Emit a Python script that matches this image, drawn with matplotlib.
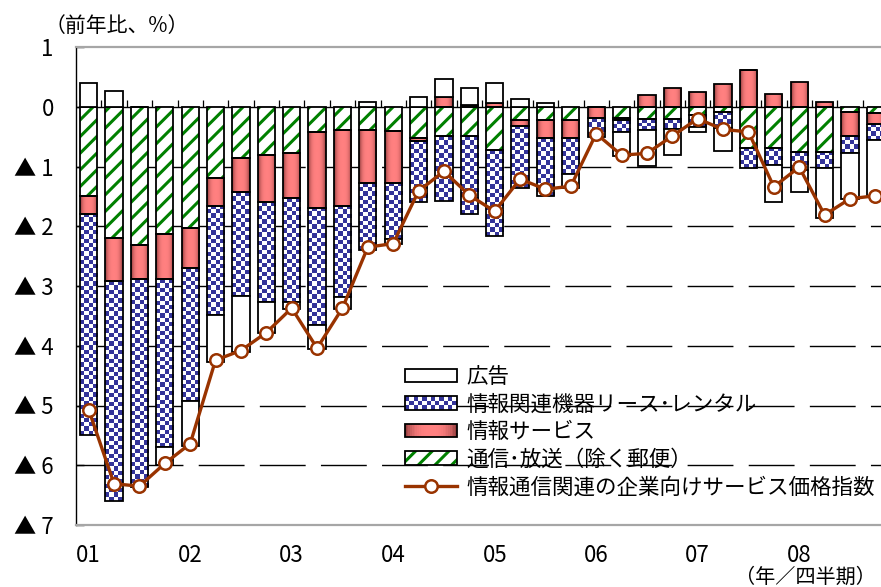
import numpy as np
import matplotlib
matplotlib.use('Agg')
import matplotlib.pyplot as plt
from matplotlib.patches import Rectangle
from matplotlib.lines import Line2D
from matplotlib.colors import ListedColormap, LinearSegmentedColormap
from matplotlib.legend_handler import HandlerBase

plt.rcParams['font.family'] = ['Noto Sans CJK JP', 'DejaVu Sans']
plt.rcParams['hatch.linewidth'] = 2.2

# ---------------- data ----------------
year_labels = ['01', '02', '03', '04', '05', '06', '07', '08']
telecom = [-1.49, -2.19, -2.31, -2.13, -2.03, -1.19, -0.86, -0.81,
           -0.77, -0.43, -0.39, -0.39, -0.40, -0.53, -0.49, -0.49,
           -0.73, -0.23, -0.23, -0.23, -0.01, -0.18, -0.21, -0.21,
           -0.14, -0.09, -0.69, -0.69, -0.76, -0.76, -0.09, -0.10]
service = [-0.30, -0.73, -0.58, -0.76, -0.67, -0.47, -0.57, -0.79,
           -0.76, -1.27, -1.27, -0.88, -0.88, -0.04, 0.17, 0.03,
           0.06, -0.09, -0.30, -0.30, -0.18, -0.04, 0.20, 0.31,
           0.24, 0.38, 0.61, 0.21, 0.41, 0.08, -0.40, -0.19]
lease = [-3.70, -3.68, -3.48, -2.80, -2.22, -1.83, -1.74, -1.67,
         -1.73, -1.96, -1.53, -1.12, -0.94, -1.03, -1.08, -1.30,
         -1.43, -1.04, -0.96, -0.60, -0.32, -0.20, -0.18, -0.17,
         -0.20, -0.27, -0.34, -0.29, -0.30, -0.27, -0.28, -0.27]
advert = [0.40, 0.26, 0.00, -0.31, -0.75, -0.78, -0.93, -0.52,
          -0.13, -0.40, -0.20, 0.08, -0.07, 0.17, 0.30, 0.28,
          0.34, 0.13, 0.07, -0.23, 0.00, -0.40, -0.60, -0.42,
          -0.09, -0.38, 0.00, -0.62, -0.37, -0.84, -0.77, -0.94]
index_line = [-5.07, -6.31, -6.35, -5.97, -5.64, -4.24, -4.08, -3.78,
              -3.37, -4.04, -3.37, -2.35, -2.29, -1.41, -1.08, -1.48,
              -1.75, -1.21, -1.38, -1.33, -0.45, -0.81, -0.78, -0.49,
              -0.20, -0.38, -0.42, -1.34, -1.01, -1.81, -1.54, -1.49]
ytick_values = [1, 0, -1, -2, -3, -4, -5, -6, -7]
ytick_labels = ['1', '0', '▲ 1', '▲ 2', '▲ 3', '▲ 4', '▲ 5', '▲ 6', '▲ 7']
series_names = ['広告', '情報関連機器リース･レンタル', '情報サービス',
                '通信･放送（除く郵便）', '情報通信関連の企業向けサービス価格指数']

# ---------------- style ----------------
BLUE = '#333399'
GREEN = '#008000'
LINE = '#993300'
PINK = '#FF8080'
DARKPINK = '#8E3A3A'
FS = 16

W, H = 881, 587
fig = plt.figure(figsize=(W / 100, H / 100), dpi=100)
ax = fig.add_axes([76 / W, 62 / H, 812 / W, 478 / H])

n = len(telecom)
x = np.arange(n)
width = 0.68

checker_cmap = ListedColormap(['white', BLUE])
grad_cmap = LinearSegmentedColormap.from_list('g', [PINK, DARKPINK])

pos_base = np.zeros(n)
neg_base = np.zeros(n)


def stack(vals):
    v = np.array(vals, dtype=float)
    b = np.where(v >= 0, pos_base, neg_base)
    pos_base[:] += np.where(v > 0, v, 0)
    neg_base[:] += np.where(v < 0, v, 0)
    return v, b


# telecom (green hatch)
v, b = stack(telecom)
ax.bar(x, v, width, bottom=b, color='white', edgecolor=GREEN, hatch='//', linewidth=0, zorder=2)
ax.bar(x, v, width, bottom=b, fill=False, edgecolor='black', linewidth=1.3, zorder=3)

# information service (gradient)
v, b = stack(service)
bars = ax.bar(x, v, width, bottom=b, fill=False, edgecolor='black', linewidth=1.3, zorder=3)
grad = np.abs(np.linspace(-1, 1, 40)) ** 3
for r in bars:
    h = r.get_height()
    if abs(h) < 1e-9:
        continue
    x0, y0, w = r.get_x(), r.get_y(), r.get_width()
    ax.imshow(grad[None, :], cmap=grad_cmap, vmin=0, vmax=1, aspect='auto',
              interpolation='bilinear', extent=(x0, x0 + w, min(y0, y0 + h), max(y0, y0 + h)), zorder=2)

# lease (checkerboard)
v, b = stack(lease)
bars = ax.bar(x, v, width, bottom=b, fill=False, edgecolor='black', linewidth=1.3, zorder=3)
for r in bars:
    h = r.get_height()
    if abs(h) < 1e-9:
        continue
    x0, y0, w = r.get_x(), r.get_y(), r.get_width()
    nr = max(1, int(round(abs(h) * 60 / 4.3)))
    nc = 4
    arr = (np.add.outer(np.arange(nr), np.arange(nc)) % 2).astype(float)
    ax.imshow(arr, cmap=checker_cmap, vmin=0, vmax=1, aspect='auto', interpolation='nearest',
              extent=(x0, x0 + w, min(y0, y0 + h), max(y0, y0 + h)), zorder=2)

# advertising (white)
v, b = stack(advert)
ax.bar(x, v, width, bottom=b, color='white', edgecolor='black', linewidth=1.3, zorder=3)

# index line
ax.plot(x, index_line, color=LINE, lw=2.4, marker='o', ms=9, mfc='white', mec=LINE, mew=1.8, zorder=5)

# grid, zero line, category ticks
for yv in ytick_values[2:-1]:
    ax.axhline(yv, color='black', lw=1.0, linestyle=(0, (33, 11)), zorder=0.5)
ax.axhline(0, color='black', lw=1.0, zorder=1)
ax.vlines(np.arange(n + 1) - 0.5, 0, 0.12, color='black', lw=0.9, zorder=1)

ax.set_xlim(-0.5, n - 0.5)
ax.set_ylim(-7, 1)

ax.set_yticks(ytick_values)
ax.set_yticklabels(ytick_labels)
ax.tick_params(axis='y', direction='in', length=6, width=1, pad=16, labelsize=FS)
ax.set_xticks(x[::4])
ax.set_xticklabels(year_labels)
ax.tick_params(axis='x', length=0, pad=14, labelsize=FS)

ax.spines['left'].set_color('black')
ax.spines['left'].set_linewidth(1.0)
for s in ('top', 'bottom'):
    ax.spines[s].set_color('#A6A6A6')
    ax.spines[s].set_linewidth(1.6)
ax.spines['right'].set_visible(False)


# ---------------- legend ----------------
class CheckerHandler(HandlerBase):
    def create_artists(self, legend, orig_handle, xd, yd, w, h, fontsize, trans):
        x0, y0 = -xd, -yd
        arts = [Rectangle((x0, y0), w, h, facecolor='white', edgecolor='none', transform=trans)]
        nx, ny = 12, 3
        cw, ch = w / nx, h / ny
        for i in range(nx):
            for j in range(ny):
                if (i + j) % 2 == 0:
                    arts.append(Rectangle((x0 + i * cw, y0 + j * ch), cw, ch, facecolor=BLUE,
                                          edgecolor='none', transform=trans))
        arts.append(Rectangle((x0, y0), w, h, facecolor='none', edgecolor='black', lw=1.3, transform=trans))
        return arts


class GradHandler(HandlerBase):
    def create_artists(self, legend, orig_handle, xd, yd, w, h, fontsize, trans):
        x0, y0 = -xd, -yd
        arts = []
        m = 30
        for i in range(m):
            t = abs((i + 0.5) / m * 2 - 1) ** 3
            arts.append(Rectangle((x0 + i * w / m, y0), w / m * 1.05, h, facecolor=grad_cmap(t),
                                  edgecolor='none', transform=trans))
        arts.append(Rectangle((x0, y0), w, h, facecolor='none', edgecolor='black', lw=1.3, transform=trans))
        return arts


class HatchHandler(HandlerBase):
    def create_artists(self, legend, orig_handle, xd, yd, w, h, fontsize, trans):
        x0, y0 = -xd, -yd
        return [Rectangle((x0, y0), w, h, facecolor='white', edgecolor=GREEN, hatch='//', lw=0, transform=trans),
                Rectangle((x0, y0), w, h, facecolor='none', edgecolor='black', lw=1.3, transform=trans)]


class Tag:
    pass


h_ad = Rectangle((0, 0), 1, 1, facecolor='white', edgecolor='black', lw=1.3)
h_lease, h_serv, h_tel = Tag(), Tag(), Tag()
h_line = Line2D([], [], color=LINE, lw=2.4, marker='o', ms=9, mfc='white', mec=LINE, mew=1.8)

leg = fig.legend([h_ad, h_lease, h_serv, h_tel, h_line], series_names,
                 handler_map={h_lease: CheckerHandler(), h_serv: GradHandler(), h_tel: HatchHandler()},
                 loc='upper left', bbox_to_anchor=(405 / W, 1 - 366 / H), frameon=False,
                 borderpad=0, borderaxespad=0, handlelength=2.4, handleheight=0.6,
                 handletextpad=0.45, labelspacing=0.26, fontsize=15.5, numpoints=1)

fig.text(45 / W, 1 - 26 / H, '（前年比、%）', ha='left', va='center', fontsize=15)
fig.text(876 / W, 1 - 577 / H, '（年／四半期）', ha='right', va='center', fontsize=14.5)

fig.savefig('out.png', dpi=100)
